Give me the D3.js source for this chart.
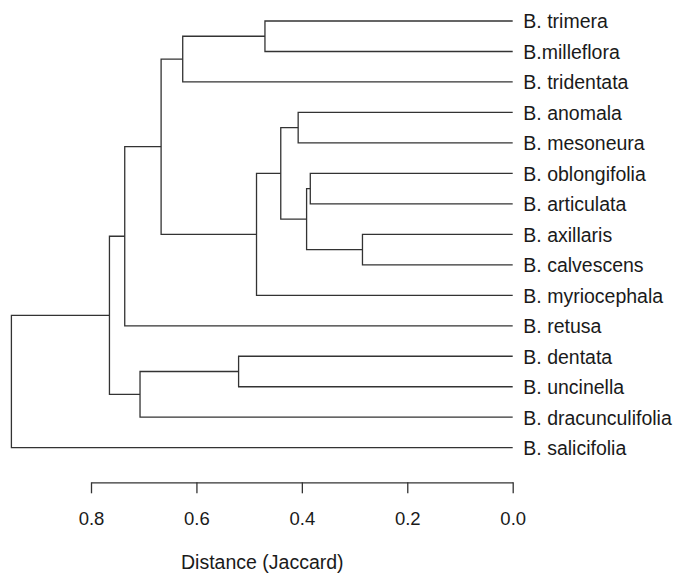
<!DOCTYPE html>
<html><head><meta charset="utf-8">
<script src="https://cdn.jsdelivr.net/npm/d3@7"></script>
<style>body{margin:0;background:#fff}</style>
</head><body>
<script>
// Leaves in display order (top to bottom)
const leaves = ["B. trimera","B.milleflora","B. tridentata","B. anomala","B. mesoneura","B. oblongifolia","B. articulata","B. axillaris","B. calvescens","B. myriocephala","B. retusa","B. dentata","B. uncinella","B. dracunculifolia","B. salicifolia"];
// hclust-style merge: negative = leaf (1-based), positive = earlier merge step
const mergeLeft  = [-8, -6, 2, -4, 4, -1, 5, -12, 6, 9, 8, 10, 12, 13];
const mergeRight = [-9, -7, 1, -5, 3, -2, -10, -13, -3, 7, -14, -11, 11, -15];
const mergeHeight = [0.285, 0.384, 0.391, 0.407, 0.440, 0.470, 0.486, 0.520, 0.626, 0.667, 0.707, 0.736, 0.765, 0.951];
const tickValues = [0.8, 0.6, 0.4, 0.2, 0.0];
const axisTitle = "Distance (Jaccard)";

const W = 673, H = 573;
const FONT = "Liberation Sans, Arial, sans-serif";
const svg = d3.select("body").append("svg").attr("width", W).attr("height", H);

function build(i){
  if (i < 0) return {name: leaves[-i-1], height: 0};
  const k = i - 1;
  return {height: mergeHeight[k], children: [build(mergeLeft[k]), build(mergeRight[k])]};
}
const root = d3.hierarchy(build(mergeHeight.length));

const x = d3.scaleLinear().domain([0.8, 0]).range([91, 512.7]);
const y = d3.scalePoint().domain(leaves).range([21, 447.7]);

root.eachAfter(n => {
  n.px = x(n.data.height);
  n.py = n.children ? (n.children[0].py + n.children[n.children.length-1].py) / 2 : y(n.data.name);
});

const g = svg.append("g").attr("fill", "none").attr("stroke", "#333").attr("stroke-width", 1.3);
root.each(n => {
  if (!n.children) return;
  const c0 = n.children[0], c1 = n.children[n.children.length-1];
  g.append("path").attr("d",
    `M${c0.px},${c0.py}H${n.px}V${c1.py}H${c1.px}`);
});

svg.append("g").selectAll("text").data(root.leaves()).join("text")
  .attr("x", d => d.px + 10.6).attr("y", d => d.py).attr("dy", "0.38em")
  .attr("font-family", FONT).attr("font-size", 19.5)
  .attr("fill", "#1a1a1a").text(d => d.data.name);

const ax = svg.append("g").attr("transform", "translate(0,482.3)")
  .call(d3.axisBottom(x).tickValues(tickValues).tickFormat(d3.format(".1f")).tickSize(11).tickSizeOuter(0).tickPadding(18.4));
ax.select(".domain").attr("stroke", "#333").attr("stroke-width", 1.3);
ax.selectAll(".tick line").attr("stroke", "#333").attr("stroke-width", 1.3);
ax.selectAll("text").attr("font-family", FONT).attr("font-size", 18.5).attr("fill", "#1a1a1a");

svg.append("text").attr("x", 262.3).attr("y", 568.5).attr("text-anchor", "middle")
  .attr("font-family", FONT).attr("font-size", 19.5)
  .attr("fill", "#1a1a1a").text(axisTitle);
</script>
</body></html>
